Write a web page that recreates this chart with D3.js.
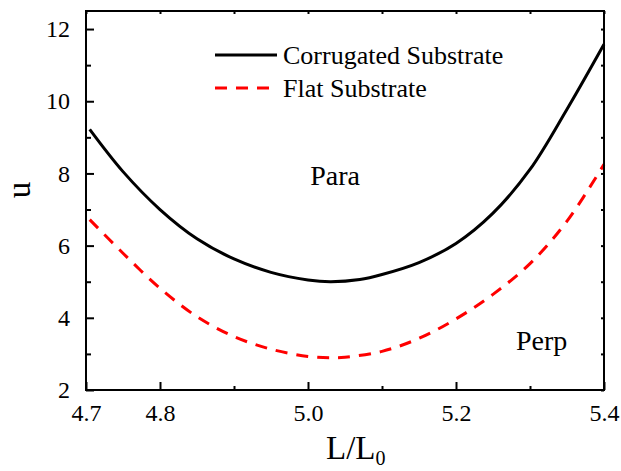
<!DOCTYPE html>
<html>
<head>
<meta charset="utf-8">
<script src="https://cdn.jsdelivr.net/npm/d3@7/dist/d3.min.js"></script>
<style>
  html, body { margin: 0; padding: 0; background: #fff; }
  svg { display: block; }
</style>
</head>
<body>
<svg id="chart" width="621" height="471"></svg>
<script>
// ---- data ----
const corrugatedX = [4.705, 4.75, 4.80, 4.85, 4.90, 4.95, 5.00, 5.03, 5.07, 5.10, 5.15, 5.20, 5.25, 5.30, 5.35, 5.40];
const corrugatedY = [9.22, 8.05, 7.00, 6.19, 5.63, 5.26, 5.05, 5.00, 5.06, 5.20, 5.53, 6.06, 6.90, 8.11, 9.78, 11.58];
const flatX = [4.705, 4.75, 4.80, 4.85, 4.90, 4.95, 5.00, 5.03, 5.05, 5.10, 5.15, 5.20, 5.25, 5.30, 5.35, 5.40];
const flatY = [6.72, 5.79, 4.82, 4.03, 3.48, 3.13, 2.93, 2.89, 2.91, 3.07, 3.43, 3.97, 4.65, 5.50, 6.68, 8.25];
const xMajorTicks = [4.7, 4.8, 5.0, 5.2, 5.4];
const xMinorTicks = [4.9, 5.1, 5.3];
const xTickLabels = ["4.7", "4.8", "5.0", "5.2", "5.4"];
const yMajorTicks = [2, 4, 6, 8, 10, 12];
const yMinorTicks = [3, 5, 7, 9, 11];
const yTickLabels = ["2", "4", "6", "8", "10", "12"];
const seriesNames = ["Corrugated Substrate", "Flat Substrate"];
const regionLabels = [{text: "Para", x: 5.003, y: 7.69}, {text: "Perp", x: 5.281, y: 3.11}];

(function () {
const FONT = "'Liberation Serif', 'Times New Roman', Times, serif";
const svg = d3.select("#chart");
const mLeft = 86, mRight = 604, mTop = 11, mBottom = 390;
const x = d3.scaleLinear().domain([4.7, 5.4]).range([mLeft, mRight]);
const y = d3.scaleLinear().domain([2, 12.5]).range([mBottom, mTop]);

const line = d3.line().x(d => x(d[0])).y(d => y(d[1])).curve(d3.curveCatmullRom.alpha(0.5));

const g = svg.append("g");

// curves
g.append("path")
  .datum(flatX.map((v, i) => [v, flatY[i]]))
  .attr("d", line).attr("fill", "none")
  .attr("stroke", "#ff0000").attr("stroke-width", 3)
  .attr("stroke-dasharray", "12,9");
g.append("path")
  .datum(corrugatedX.map((v, i) => [v, corrugatedY[i]]))
  .attr("d", line).attr("fill", "none")
  .attr("stroke", "#000").attr("stroke-width", 3);

// axes (inward ticks)
const bottomAxis = d3.axisBottom(x).tickValues(xMajorTicks)
  .tickFormat((d, i) => xTickLabels[i]).tickSizeInner(-8).tickSizeOuter(0).tickPadding(14);
const bottomMinor = d3.axisBottom(x).tickValues(xMinorTicks).tickFormat("").tickSizeInner(-4).tickSizeOuter(0);
const leftAxis = d3.axisLeft(y).tickValues(yMajorTicks)
  .tickFormat((d, i) => yTickLabels[i]).tickSizeInner(-8).tickSizeOuter(0).tickPadding(16);
const leftMinor = d3.axisLeft(y).tickValues(yMinorTicks).tickFormat("").tickSizeInner(-5).tickSizeOuter(0);
const topAxis = d3.axisTop(x).tickValues(xMajorTicks.concat(xMinorTicks)).tickFormat("").tickSizeInner(-3).tickSizeOuter(0);
const rightAxis = d3.axisRight(y).tickValues(yMajorTicks.concat(yMinorTicks)).tickFormat("").tickSizeInner(-3).tickSizeOuter(0);

function style(sel) {
  sel.attr("font-family", null).attr("font-size", null);
  sel.select(".domain").remove();
  sel.selectAll(".tick line").attr("stroke", "#000").attr("stroke-width", 2);
  sel.selectAll(".tick text").style("font-family", FONT).style("font-size", "24px").attr("fill", "#000");
}
g.append("g").attr("transform", `translate(0,${mBottom})`).call(bottomAxis).call(style);
g.append("g").attr("transform", `translate(0,${mBottom})`).call(bottomMinor).call(style);
g.append("g").attr("transform", `translate(${mLeft},0)`).call(leftAxis).call(style);
g.append("g").attr("transform", `translate(${mLeft},0)`).call(leftMinor).call(style);
g.append("g").attr("transform", `translate(0,${mTop})`).call(topAxis).call(style);
g.append("g").attr("transform", `translate(${mRight},0)`).call(rightAxis).call(style);

// frame
g.append("rect").attr("x", mLeft).attr("y", mTop).attr("width", mRight - mLeft).attr("height", mBottom - mTop)
  .attr("fill", "none").attr("stroke", "#000").attr("stroke-width", 2);

// legend
const legend = g.append("g");
const legY = [55, 88];
legend.append("line").attr("x1", 215).attr("x2", 277).attr("y1", legY[0]).attr("y2", legY[0])
  .attr("stroke", "#000").attr("stroke-width", 3);
legend.append("line").attr("x1", 215).attr("x2", 277).attr("y1", legY[1]).attr("y2", legY[1])
  .attr("stroke", "#ff0000").attr("stroke-width", 3).attr("stroke-dasharray", "12,9");
seriesNames.forEach((n, i) => {
  legend.append("text").attr("x", 283).attr("y", legY[i] + 9)
    .style("font-family", FONT).style("font-size", "26px").text(n);
});

// region labels
regionLabels.forEach(r => {
  g.append("text").attr("x", x(r.x)).attr("y", y(r.y))
    .style("font-family", FONT).style("font-size", "28px").text(r.text);
});

// axis titles
const xt = svg.append("text").attr("x", 326).attr("y", 459).style("font-family", FONT).style("font-size", "33px");
xt.append("tspan").text("L/L");
xt.append("tspan").style("font-size", "20px").attr("dy", 6).text("0");
svg.append("text").attr("transform", "translate(30,190) rotate(-90)")
  .attr("text-anchor", "middle").style("font-family", FONT).style("font-size", "33px").text("u");
})();
</script>
</body>
</html>
